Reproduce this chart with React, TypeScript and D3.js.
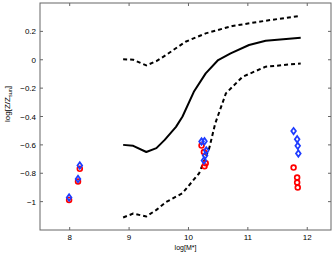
import React, { useEffect, useRef } from 'react';
import * as d3 from 'd3';

// median relation and its scatter band
const medMass = [8.9, 9.07, 9.29, 9.46, 9.6, 9.79, 9.9, 10.09, 10.29, 10.5, 10.71, 11.02, 11.3, 11.89];
const medZ = [-0.6, -0.607, -0.65, -0.623, -0.565, -0.473, -0.4, -0.226, -0.096, -0.002, 0.045, 0.104, 0.134, 0.155];

const upMass = [8.9, 9.07, 9.29, 9.46, 9.62, 9.95, 10.29, 10.74, 11.3, 11.89];
const upZ = [0.003, 0.0, -0.04, -0.01, 0.033, 0.127, 0.186, 0.238, 0.275, 0.31];

const loMass = [8.9, 9.07, 9.29, 9.46, 9.62, 9.9, 10.18, 10.35, 10.45, 10.63, 10.91, 11.3, 11.89];
const loZ = [-1.112, -1.084, -1.105, -1.058, -1.004, -0.94, -0.8, -0.623, -0.45, -0.237, -0.12, -0.049, -0.026];

// observed galaxies
const redMass = [8.17, 8.14, 7.99, 10.22, 10.26, 10.29, 10.27, 11.77, 11.83, 11.83, 11.84];
const redZ = [-0.769, -0.858, -0.988, -0.605, -0.65, -0.73, -0.75, -0.76, -0.83, -0.865, -0.9];
const blueMass = [8.17, 8.14, 7.99, 10.22, 10.27, 10.3, 10.28, 10.26, 11.77, 11.83, 11.84, 11.85];
const blueZ = [-0.745, -0.84, -0.971, -0.576, -0.575, -0.64, -0.675, -0.71, -0.503, -0.56, -0.607, -0.661];

const xTicks = [8, 9, 10, 11, 12];
const yTicks = [-1, -0.8, -0.6, -0.4, -0.2, 0, 0.2];

const App = () => {
  const ref = useRef<SVGSVGElement>(null);

  useEffect(() => {
    const svg = d3.select(ref.current);
    svg.selectAll('*').remove();

    const left = 40, top = 3, right = 331, bottom = 230;
    const x = d3.scaleLinear().domain([7.5, 12.4]).range([left, right]);
    const y = d3.scaleLinear().domain([-1.2, 0.4]).range([bottom, top]);
    const font = 'Liberation Sans, Arial, sans-serif';
    const axisCol = '#666';

    svg.append('rect').attr('width', 332).attr('height', 255).attr('fill', '#fff');

    // curves
    const line = d3.line<[number, number]>().x((d) => x(d[0])).y((d) => y(d[1]));
    const curve = (ms: number[], zs: number[], dash: string | null, w: number) => {
      svg
        .append('path')
        .attr('d', line(ms.map((m, i) => [m, zs[i]] as [number, number])))
        .attr('fill', 'none')
        .attr('stroke', '#000')
        .attr('stroke-width', w)
        .attr('stroke-dasharray', dash)
        .attr('stroke-linejoin', 'round');
    };
    curve(upMass, upZ, '4,3', 2);
    curve(loMass, loZ, '4,3', 2);
    curve(medMass, medZ, null, 2);

    // red circles
    svg
      .append('g')
      .selectAll('circle')
      .data(redMass.map((m, i) => [m, redZ[i]]))
      .enter()
      .append('circle')
      .attr('cx', (d) => x(d[0]))
      .attr('cy', (d) => y(d[1]))
      .attr('r', 2.4)
      .attr('fill', 'none')
      .attr('stroke', '#ff0000')
      .attr('stroke-width', 1.7);

    // blue diamonds
    const diamond = d3.symbol().type(d3.symbolDiamond2).size(22);
    svg
      .append('g')
      .selectAll('path')
      .data(blueMass.map((m, i) => [m, blueZ[i]]))
      .enter()
      .append('path')
      .attr('d', diamond)
      .attr('transform', (d) => `translate(${x(d[0])},${y(d[1])}) scale(0.8,1.1)`)
      .attr('fill', 'none')
      .attr('stroke', '#1e3cff')
      .attr('stroke-width', 1.9);

    // box
    svg
      .append('rect')
      .attr('x', left)
      .attr('y', top)
      .attr('width', right - left)
      .attr('height', bottom - top)
      .attr('fill', 'none')
      .attr('stroke', axisCol)
      .attr('stroke-width', 1);

    // ticks, inward on all four sides
    xTicks.forEach((t) => {
      svg.append('line').attr('x1', x(t)).attr('x2', x(t)).attr('y1', bottom).attr('y2', bottom - 3).attr('stroke', axisCol);
      svg.append('line').attr('x1', x(t)).attr('x2', x(t)).attr('y1', top).attr('y2', top + 3).attr('stroke', axisCol);
      svg
        .append('text')
        .attr('x', x(t))
        .attr('y', bottom + 10)
        .attr('text-anchor', 'middle')
        .attr('font-family', font)
        .attr('font-size', 8)
        .text(d3.format('d')(t));
    });
    yTicks.forEach((t) => {
      svg.append('line').attr('x1', left).attr('x2', left + 3).attr('y1', y(t)).attr('y2', y(t)).attr('stroke', axisCol);
      svg.append('line').attr('x1', right).attr('x2', right - 3).attr('y1', y(t)).attr('y2', y(t)).attr('stroke', axisCol);
      svg
        .append('text')
        .attr('x', left - 4)
        .attr('y', y(t) + 3)
        .attr('text-anchor', 'end')
        .attr('font-family', font)
        .attr('font-size', 8)
        .text(t === 0 ? '0' : d3.format('.1~f')(t).replace('-', '\u2212'));
    });

    // axis labels
    svg
      .append('text')
      .attr('x', (left + right) / 2)
      .attr('y', 249.5)
      .attr('text-anchor', 'middle')
      .attr('font-family', font)
      .attr('font-size', 7)
      .text('log[M*]');

    const yl = svg
      .append('text')
      .attr('transform', `translate(10,104) rotate(-90)`)
      .attr('text-anchor', 'middle')
      .attr('font-family', font)
      .attr('font-size', 8);
    yl.append('tspan').text('log[Z/Z');
    yl.append('tspan').attr('font-size', 5.5).attr('dy', 2).text('sun');
    yl.append('tspan').attr('dy', -2).text(']');
  }, []);

  return <svg ref={ref} width={332} height={255} style={{ position: 'absolute', left: 0, top: 0 }} />;
};

export default App;
